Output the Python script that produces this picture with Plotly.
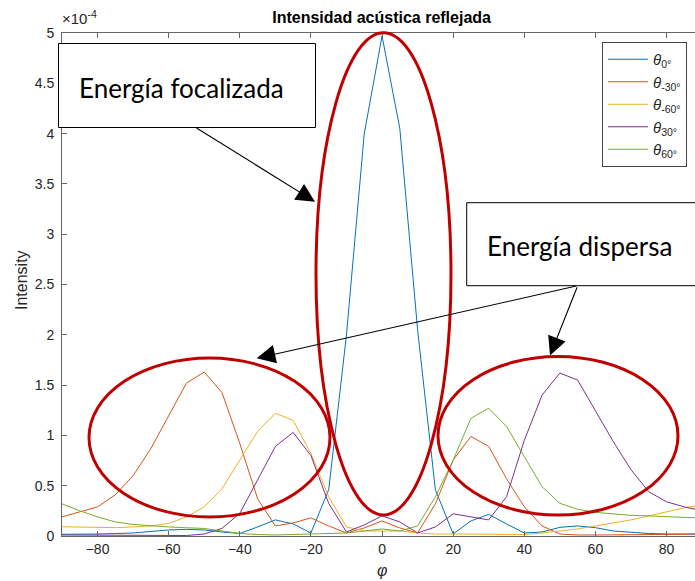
import plotly.graph_objects as go

# Reflected acoustic intensity vs. observation angle (values in units of 1e-4)
phi = list(range(-90, 91, 5))

theta_0 = [0.017, 0.017, 0.02, 0.025, 0.03, 0.045, 0.06, 0.066, 0.06, 0.04,
           0.025, 0.09, 0.16, 0.12, 0.03, 0.46, 2.0, 4.0, 4.97, 4.05,
           2.05, 0.46, 0.02, 0.15, 0.215, 0.12, 0.03, 0.04, 0.086, 0.1,
           0.083, 0.05, 0.035, 0.025, 0.02, 0.02, 0.02]
theta_m30 = [0.19, 0.24, 0.29, 0.41, 0.6, 0.87, 1.19, 1.52, 1.63, 1.425,
             0.92, 0.37, 0.1, 0.13, 0.18, 0.1, 0.03, 0.08, 0.15, 0.08,
             0.03, 0.32, 0.755, 0.99, 0.89, 0.57, 0.29, 0.1, 0.02, 0.01,
             0.01, 0.01, 0.012, 0.015, 0.015, 0.017, 0.02]
theta_m60 = [0.092, 0.088, 0.083, 0.083, 0.09, 0.1, 0.125, 0.19, 0.29, 0.47,
             0.755, 1.04, 1.22, 1.15, 0.82, 0.39, 0.09, 0.05, 0.05, 0.05,
             0.03, 0.02, 0.02, 0.02, 0.02, 0.015, 0.015, 0.03, 0.05, 0.07,
             0.1, 0.13, 0.16, 0.2, 0.24, 0.28, 0.31]
theta_30 = [0.01, 0.01, 0.01, 0.01, 0.01, 0.01, 0.01, 0.005, 0.02, 0.076,
            0.225, 0.56, 0.89, 1.03, 0.8, 0.325, 0.04, 0.11, 0.2, 0.14,
            0.03, 0.09, 0.22, 0.19, 0.16, 0.39, 0.95, 1.4, 1.62, 1.55,
            1.25, 0.94, 0.66, 0.44, 0.34, 0.29, 0.25]
theta_60 = [0.32, 0.25, 0.19, 0.14, 0.115, 0.1, 0.09, 0.082, 0.075, 0.05,
            0.025, 0.015, 0.01, 0.015, 0.02, 0.02, 0.03, 0.05, 0.07, 0.05,
            0.1, 0.39, 0.755, 1.17, 1.27, 1.09, 0.79, 0.49, 0.325, 0.265,
            0.235, 0.22, 0.205, 0.2, 0.19, 0.185, 0.18]

series = [
    ("<i>θ</i><sub>0°</sub>", theta_0, "#0072BD"),
    ("<i>θ</i><sub>-30°</sub>", theta_m30, "#D95319"),
    ("<i>θ</i><sub>-60°</sub>", theta_m60, "#EDB120"),
    ("<i>θ</i><sub>30°</sub>", theta_30, "#7E2F8E"),
    ("<i>θ</i><sub>60°</sub>", theta_60, "#77AC30"),
]

x_ticks = [-80, -60, -40, -20, 0, 20, 40, 60, 80]
y_ticks = [0, 0.5, 1, 1.5, 2, 2.5, 3, 3.5, 4, 4.5, 5]
y_tick_text = ["0", "0.5", "1", "1.5", "2", "2.5", "3", "3.5", "4", "4.5", "5"]

W, H = 695, 581
ML, MR, MT, MB = 62, 0, 33, 45
PW, PH = W - ML - MR, H - MT - MB


def px(p):
    """Horizontal pixel -> paper coordinate."""
    return (p - ML) / PW


def py(p):
    """Vertical pixel (from top) -> paper coordinate."""
    return (H - MB - p) / PH


AXIS_FONT = "Liberation Sans, Arial, sans-serif"
BOX_FONT = "Lato, Open Sans, sans-serif"
RED = "#C00000"

fig = go.Figure()
for name, vals, color in series:
    fig.add_trace(go.Scatter(x=phi, y=vals, mode="lines", name=name,
                             line=dict(color=color, width=1)))

shapes = [
    # highlighted regions
    dict(type="circle", xref="paper", yref="paper",
         x0=px(316), x1=px(451), y0=py(515), y1=py(32.7),
         line=dict(color=RED, width=3)),
    dict(type="circle", xref="paper", yref="paper",
         x0=px(89), x1=px(330), y0=py(517), y1=py(358),
         line=dict(color=RED, width=3)),
    dict(type="circle", xref="paper", yref="paper",
         x0=px(438), x1=px(678), y0=py(515), y1=py(356.5),
         line=dict(color=RED, width=3)),
    # callout boxes
    dict(type="rect", xref="paper", yref="paper",
         x0=px(58.5), x1=px(315.5), y0=py(127.5), y1=py(43.5),
         line=dict(color="black", width=1), fillcolor="white"),
    dict(type="rect", xref="paper", yref="paper",
         x0=px(466.7), x1=px(702), y0=py(285.7), y1=py(202.7),
         line=dict(color="black", width=1), fillcolor="white"),
]


def label(text, x, y, size, family=AXIS_FONT, color="#262626", **kw):
    return dict(text=text, xref="paper", yref="paper", x=px(x), y=py(y),
                xanchor=kw.pop("xanchor", "center"), yanchor="middle",
                showarrow=False, font=dict(family=family, size=size, color=color),
                **kw)


annotations = [
    label("Energía focalizada", 181.5, 88, 26, family=BOX_FONT, color="black"),
    label("Energía dispersa", 579.5, 246, 26, family=BOX_FONT, color="black"),
    label("×10<sup>-4</sup>", 60, 17, 15, xanchor="left"),
    label("Intensity", 21, 280, 16, textangle=-90),
    label("<i>φ</i>", 381.6, 570, 16),
]

# arrows from the callout boxes to the highlighted regions
arrows = [((195, 127), (315, 201.7)),
          ((577.7, 285.7), (256.7, 358.3)),
          ((577.7, 285.7), (550, 355.5))]
for (tx, ty), (hx, hy) in arrows:
    annotations.append(dict(
        text="", xref="paper", yref="paper", x=px(hx), y=py(hy),
        ax=tx - hx, ay=ty - hy, axref="pixel", ayref="pixel",
        showarrow=True, arrowhead=2, arrowsize=3.4, arrowwidth=1.1,
        arrowcolor="black", standoff=0))

fig.update_layout(
    width=W, height=H,
    margin=dict(l=ML, r=MR, t=MT, b=MB),
    paper_bgcolor="white", plot_bgcolor="white",
    title=dict(text="<b>Intensidad acústica reflejada</b>",
               x=px(381.6), xref="paper", xanchor="center",
               y=1 - 17 / H, yref="container", yanchor="middle",
               font=dict(family=AXIS_FONT, size=16, color="black")),
    xaxis=dict(range=[-90, -90 + PW / 3.556], tickvals=x_ticks,
               showgrid=False, zeroline=False, showline=True,
               linecolor="#666", linewidth=1, mirror="ticks",
               ticks="inside", ticklen=5, tickcolor="#666",
               tickfont=dict(family=AXIS_FONT, size=14, color="#262626")),
    yaxis=dict(range=[0, 5], tickvals=y_ticks, ticktext=y_tick_text,
               showgrid=False, zeroline=False, showline=True,
               linecolor="#666", linewidth=1,
               ticks="inside", ticklen=5, tickcolor="#666",
               ticklabelstandoff=4,
               tickfont=dict(family=AXIS_FONT, size=14, color="#262626")),
    legend=dict(x=px(602), y=py(42), xanchor="left", yanchor="top",
                bgcolor="white", bordercolor="#444", borderwidth=1,
                font=dict(family=AXIS_FONT, size=15, color="#262626"),
                itemwidth=40),
    shapes=shapes,
    annotations=annotations,
)

fig.write_html("out.html")
